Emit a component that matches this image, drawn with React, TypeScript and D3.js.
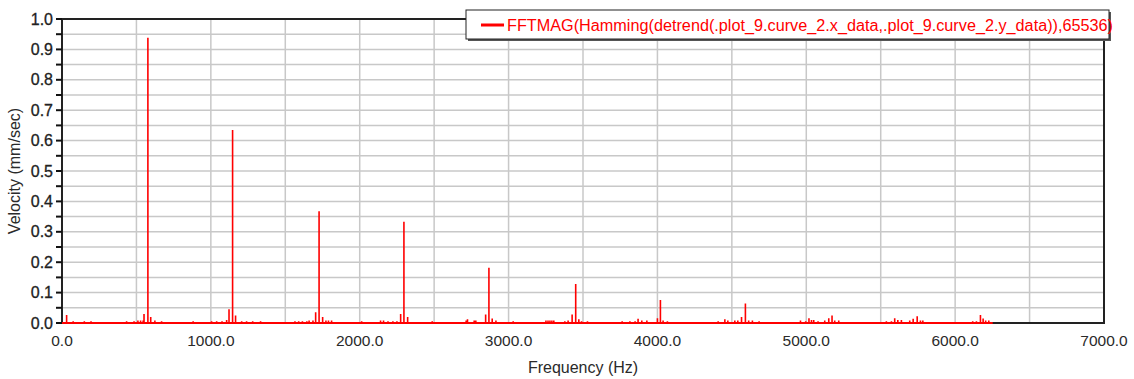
import React from 'react';
import * as d3 from 'd3';

// harmonic peaks (Hz, mm/sec)
const peakFreqs = [577, 1146, 1727, 2297, 2868, 3451, 4020, 4591];
const peakMags = [0.938, 0.635, 0.368, 0.333, 0.182, 0.128, 0.076, 0.064];

// small spikes along the floor
const noiseFreqs = [31, 75, 150, 195, 434, 484, 510, 528, 545, 551, 596, 624, 669, 881, 1005, 1039, 1075, 1106, 1122, 1166, 1207, 1240, 1281, 1334, 1565, 1590, 1615, 1645, 1660, 1686, 1704, 1751, 1773, 1790, 1811, 2013, 2140, 2160, 2190, 2223, 2250, 2275, 2322, 2487, 2715, 2724, 2769, 2780, 2846, 2890, 2915, 3031, 3251, 3265, 3278, 3291, 3304, 3378, 3400, 3427, 3472, 3490, 3530, 3763, 3815, 3850, 3870, 3895, 3929, 4000, 4038, 4067, 4408, 4453, 4473, 4520, 4540, 4565, 4613, 4638, 4683, 4961, 4996, 5018, 5035, 5050, 5079, 5124, 5151, 5173, 5191, 5218, 5538, 5572, 5594, 5615, 5639, 5695, 5718, 5745, 5767, 5783, 6118, 6143, 6170, 6188, 6205, 6226];
const noiseMags = [0.026, 0.006, 0.006, 0.006, 0.006, 0.006, 0.008, 0.008, 0.008, 0.03, 0.02, 0.008, 0.006, 0.006, 0.006, 0.006, 0.006, 0.01, 0.045, 0.025, 0.006, 0.006, 0.006, 0.006, 0.006, 0.006, 0.006, 0.006, 0.008, 0.008, 0.035, 0.02, 0.008, 0.008, 0.008, 0.006, 0.008, 0.008, 0.006, 0.006, 0.006, 0.03, 0.02, 0.006, 0.008, 0.012, 0.008, 0.008, 0.028, 0.015, 0.008, 0.006, 0.008, 0.008, 0.008, 0.008, 0.008, 0.006, 0.008, 0.028, 0.012, 0.006, 0.006, 0.006, 0.006, 0.006, 0.014, 0.008, 0.008, 0.016, 0.008, 0.006, 0.006, 0.012, 0.008, 0.008, 0.008, 0.02, 0.008, 0.008, 0.006, 0.008, 0.006, 0.016, 0.01, 0.01, 0.006, 0.008, 0.016, 0.025, 0.008, 0.008, 0.006, 0.006, 0.016, 0.01, 0.01, 0.008, 0.014, 0.022, 0.008, 0.008, 0.006, 0.006, 0.026, 0.015, 0.008, 0.008];

const dataEnd = 6251;

const xTicks = [0, 1000, 2000, 3000, 4000, 5000, 6000, 7000];
const yTicks = [0, 0.1, 0.2, 0.3, 0.4, 0.5, 0.6, 0.7, 0.8, 0.9, 1.0];

const legendLabel = 'FFTMAG(Hamming(detrend(.plot_9.curve_2.x_data,.plot_9.curve_2.y_data)),65536)';

const W = 1134, H = 379;
const left = 62, right = 1104, top = 19, bottom = 323;
const font = '"Liberation Sans", Arial, sans-serif';

export default function App() {
  const x = d3.scaleLinear().domain([0, 7000]).range([left, right]);
  const y = d3.scaleLinear().domain([0, 1]).range([bottom, top]);

  const spikes = peakFreqs.map((f, i) => [f, peakMags[i]])
    .concat(noiseFreqs.map((f, i) => [f, noiseMags[i]]))
    .sort((a, b) => a[0] - b[0]);
  const pts: [number, number][] = [[0, 0]];
  spikes.forEach(([f, m]) => { pts.push([f, 0], [f, m], [f, 0]); });
  pts.push([dataEnd, 0]);
  const line = d3.line<[number, number]>().x(d => x(d[0])).y(d => y(d[1]));

  const hGrid = d3.range(0, 1.0001, 0.05);
  const vGrid = d3.range(0, 7001, 500);

  return (
    <svg width={W} height={H} style={{ position: 'absolute', left: 0, top: 0, background: '#fff' }} fontFamily={font}>
      {vGrid.map(v => <line key={'v' + v} x1={x(v)} x2={x(v)} y1={top} y2={bottom} stroke="#c8c8c8" strokeWidth={1.5} />)}
      {hGrid.map(v => <line key={'h' + v} x1={left} x2={right} y1={y(v)} y2={y(v)} stroke="#c8c8c8" strokeWidth={1.5} />)}
      <rect x={left} y={top} width={right - left} height={bottom - top} fill="none" stroke="#222" strokeWidth={2} />
      {hGrid.map(v => <line key={'t' + v} x1={left - 6} x2={left} y1={y(v)} y2={y(v)} stroke="#111" strokeWidth={2} />)}
      {yTicks.map(v => (
        <text key={'yl' + v} x={53} y={y(v) + 5.5} textAnchor="end" fontSize={16} fill="#222" stroke="#222" strokeWidth={0.3}>{v.toFixed(1)}</text>
      ))}
      {xTicks.map(v => (
        <text key={'xl' + v} x={x(v)} y={346} textAnchor="middle" fontSize={15.5} fill="#2a2a2a">{v.toFixed(1)}</text>
      ))}
      <path d={line(pts) || ''} fill="none" stroke="#ff0000" strokeWidth={1.6} />
      <line x1={x(0)} x2={x(dataEnd)} y1={y(0)} y2={y(0)} stroke="#ff0000" strokeWidth={2} />
      <text x={(left + right) / 2} y={373} textAnchor="middle" fontSize={16} fill="#2a2a2a">Frequency (Hz)</text>
      <text transform={`translate(20,${(top + bottom) / 2}) rotate(-90)`} textAnchor="middle" fontSize={16} fill="#2a2a2a">Velocity (mm/sec)</text>
      <g>
        <rect x={468} y={12} width={643} height={29} fill="#555" />
        <rect x={466} y={10} width={643} height={29} fill="#fff" stroke="#222" strokeWidth={1} />
        <line x1={481} x2={504} y1={25} y2={25} stroke="#ff0000" strokeWidth={3} />
        <text x={507} y={31} fontSize={16} fill="#ff0000" textLength={606} lengthAdjust="spacingAndGlyphs">{legendLabel}</text>
      </g>
    </svg>
  );
}
